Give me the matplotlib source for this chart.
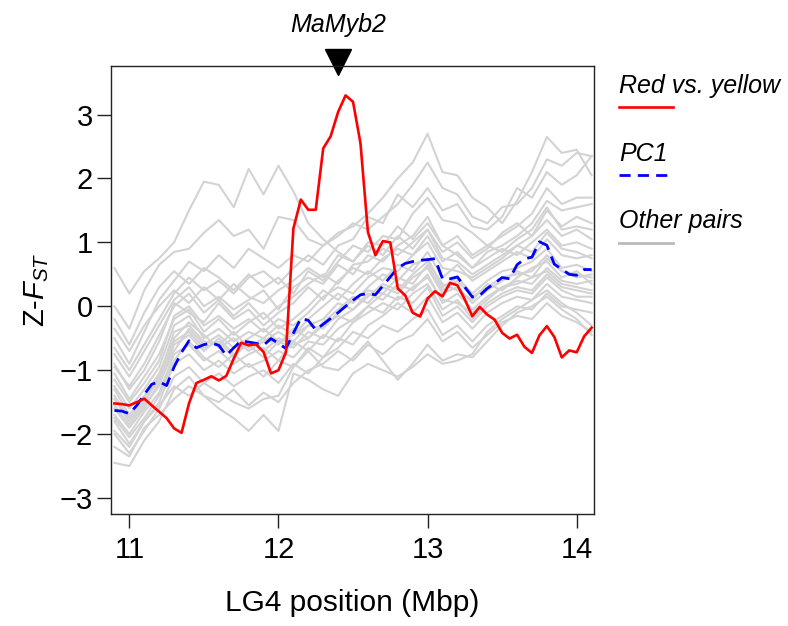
import numpy as np
import matplotlib
matplotlib.use("Agg")
import matplotlib.pyplot as plt
from matplotlib.lines import Line2D

plt.rcParams['font.family'] = ['Liberation Sans', 'DejaVu Sans']
plt.rcParams['mathtext.fontset'] = 'custom'
plt.rcParams['mathtext.rm'] = 'Liberation Sans'
plt.rcParams['mathtext.it'] = 'Liberation Sans:italic'

# positions (Mbp)
x_fine = np.round(np.arange(10.90, 14.1001, 0.05), 2)   # red / PC1
x_grey = np.round(np.arange(10.90, 14.1001, 0.10), 2)   # other pairs

red_vs_yellow = [-1.52, -1.53, -1.55, -1.50, -1.445, -1.55, -1.65, -1.75, -1.91, -1.98,
                 -1.52, -1.20, -1.15, -1.095, -1.16, -1.09, -0.82, -0.57, -0.61, -0.595,
                 -0.715, -1.05, -1.00, -0.72, 1.215, 1.67, 1.51, 1.51, 2.47, 2.66,
                 3.04, 3.30, 3.20, 2.55, 1.16, 0.80, 1.02, 1.00, 0.28, 0.17,
                 -0.10, -0.16, 0.12, 0.235, 0.155, 0.365, 0.33, 0.105, -0.155, -0.01,
                 -0.13, -0.21, -0.415, -0.505, -0.445, -0.635, -0.73, -0.455, -0.31, -0.48,
                 -0.80, -0.69, -0.72, -0.47, -0.335]

pc1 = [-1.63, -1.64, -1.68, -1.55, -1.38, -1.22, -1.18, -1.24, -0.95, -0.72,
       -0.54, -0.65, -0.60, -0.575, -0.61, -0.77, -0.65, -0.54, -0.56, -0.58,
       -0.61, -0.505, -0.58, -0.66, -0.42, -0.19, -0.22, -0.37, -0.28, -0.19,
       -0.10, 0.00, 0.095, 0.18, 0.20, 0.18, 0.32, 0.46, 0.60, 0.67,
       0.70, 0.72, 0.73, 0.745, 0.43, 0.43, 0.46, 0.30, 0.145, 0.17,
       0.28, 0.36, 0.45, 0.43, 0.65, 0.74, 0.77, 1.01, 0.955, 0.66,
       0.58, 0.50, 0.485, 0.575, 0.575]

other_pairs = [
    [0.60, 0.20, 0.55, 0.75, 1.00, 1.50, 1.95, 1.90, 1.55, 2.15, 1.75, 2.20, 1.80, 1.30, 1.05, 0.85, 0.70,
     0.95, 0.80, 1.10, 0.90, 1.20, 0.85, 1.00, 0.75, 0.90, 1.15, 1.30, 1.10, 1.50, 1.25, 1.40, 1.30],
    [0.00, -0.35, 0.25, 0.65, 0.85, 0.90, 1.15, 1.35, 1.10, 1.20, 0.90, 1.40, 1.35, 1.05, 0.95, 1.15, 1.25,
     1.45, 1.70, 2.00, 2.25, 2.70, 2.10, 2.05, 1.70, 1.55, 1.30, 1.65, 2.10, 2.65, 2.40, 2.45, 2.05],
    [-0.50, -0.90, -0.40, 0.10, 0.40, 0.70, 0.55, 0.80, 0.60, 0.90, 0.75, 0.60, 0.80, 0.70, 0.95, 1.10, 1.30,
     1.20, 1.40, 1.60, 1.90, 2.25, 1.85, 1.75, 1.40, 1.30, 1.55, 1.60, 1.85, 2.30, 2.20, 2.40, 2.35],
    [-0.20, -0.60, -0.10, 0.30, 0.55, 0.35, 0.60, 0.45, 0.25, 0.50, 0.30, 0.45, 0.20, 0.55, 0.40, 0.70, 0.95,
     0.85, 1.10, 1.05, 1.45, 1.70, 1.35, 1.30, 1.15, 0.95, 1.10, 1.25, 1.45, 1.85, 1.60, 1.70, 1.70],
    [-0.75, -1.10, -0.70, -0.30, 0.10, 0.30, 0.00, 0.15, -0.05, 0.10, 0.25, -0.05, 0.30, 0.45, 0.35, 0.65, 0.50,
     0.80, 0.70, 0.95, 1.10, 1.40, 0.95, 1.10, 0.80, 0.95, 0.85, 1.05, 1.20, 1.55, 1.20, 1.25, 1.20],
    [-0.90, -1.30, -1.00, -0.55, 0.05, -0.10, -0.25, 0.05, -0.20, -0.05, -0.30, -0.10, 0.05, 0.30, 0.10, 0.40, 0.60,
     0.50, 0.75, 0.90, 0.80, 1.10, 0.70, 0.85, 0.60, 0.75, 0.90, 0.80, 1.00, 1.20, 0.95, 1.00, 0.90],
    [-1.05, -1.45, -1.10, -0.75, -0.20, -0.05, -0.40, -0.20, -0.45, -0.25, -0.10, -0.35, -0.20, 0.00, 0.25, 0.10, 0.35,
     0.55, 0.40, 0.65, 0.55, 0.85, 0.45, 0.65, 0.40, 0.55, 0.70, 0.85, 0.75, 1.05, 0.80, 0.75, 0.80],
    [-1.25, -1.60, -1.30, -0.95, -0.30, -0.15, -0.50, -0.35, -0.55, -0.40, -0.50, -0.30, -0.45, -0.20, 0.00, 0.20, 0.05,
     0.30, 0.50, 0.40, 0.65, 0.75, 0.30, 0.45, 0.20, 0.40, 0.55, 0.60, 0.70, 0.90, 0.60, 0.65, 0.55],
    [-1.40, -1.75, -1.45, -1.10, -0.40, -0.30, -0.55, -0.60, -0.40, -0.65, -0.50, -0.60, -0.35, -0.50, -0.25, -0.05, 0.15,
     0.05, 0.30, 0.20, 0.45, 0.60, 0.20, 0.30, 0.05, 0.25, 0.40, 0.55, 0.45, 0.75, 0.55, 0.50, 0.45],
    [-1.55, -1.85, -1.55, -1.25, -0.60, -0.45, -0.70, -0.50, -0.75, -0.60, -0.80, -0.55, -0.65, -0.40, -0.50, -0.20, -0.05,
     0.20, 0.10, 0.35, 0.25, 0.50, 0.05, 0.20, -0.05, 0.15, 0.30, 0.40, 0.35, 0.60, 0.40, 0.35, 0.40],
    [-1.70, -2.00, -1.65, -1.35, -0.75, -0.60, -0.85, -0.70, -0.90, -0.75, -0.65, -0.85, -0.55, -0.70, -0.45, -0.55, -0.25,
     -0.10, 0.05, -0.05, 0.20, 0.35, -0.05, 0.10, -0.20, 0.05, 0.20, 0.30, 0.25, 0.50, 0.30, 0.25, 0.20],
    [-1.80, -2.15, -1.80, -1.50, -0.90, -0.75, -1.00, -0.85, -1.05, -0.90, -1.10, -0.85, -0.95, -0.65, -0.80, -0.50, -0.60,
     -0.30, -0.15, 0.05, -0.10, 0.15, -0.25, -0.10, -0.35, -0.10, 0.05, 0.15, 0.10, 0.35, 0.15, 0.10, 0.05],
    [-2.00, -2.30, -1.95, -1.60, -1.10, -0.95, -1.20, -1.05, -1.25, -1.10, -1.00, -1.20, -0.90, -1.05, -0.80, -0.65, -0.40,
     -0.50, -0.30, -0.40, -0.20, -0.05, -0.45, -0.30, -0.55, -0.30, -0.15, 0.00, -0.05, 0.20, 0.00, -0.05, -0.10],
    [-2.45, -2.50, -2.10, -1.80, -1.30, -1.10, -1.40, -1.50, -1.30, -1.55, -1.35, -1.50, -1.20, -1.00, -0.90, -0.70, -0.85,
     -0.60, -0.75, -0.55, -0.45, -0.20, -0.55, -0.40, -0.65, -0.45, -0.25, -0.15, -0.20, 0.05, -0.15, -0.25, -0.40],
    [-2.20, -2.35, -1.90, -1.70, -1.45, -1.25, -1.40, -1.60, -1.75, -1.95, -1.70, -1.95, -1.05, -1.15, -1.30, -1.40, -1.05,
     -0.90, -1.00, -1.10, -0.95, -0.75, -0.90, -0.85, -0.75, -0.40, -0.20, -0.05, 0.10, 0.25, 0.05, -0.10, -0.30],
    [-1.95, -2.20, -1.80, -1.55, -1.25, -1.40, -1.20, -1.35, -1.50, -1.60, -1.45, -1.40, -0.95, -0.70, -0.95, -1.00, -0.80,
     -0.55, -0.85, -1.15, -0.90, -0.60, -0.85, -0.75, -0.80, -0.55, -0.30, -0.10, 0.00, 0.15, -0.05, -0.20, -0.45],
    [-0.35, -0.70, -0.30, 0.00, 0.25, 0.05, 0.30, 0.10, 0.35, 0.15, 0.05, 0.25, 0.40, 0.60, 0.45, 0.80, 0.70,
     1.00, 0.95, 1.25, 1.05, 1.30, 0.95, 0.80, 0.60, 0.85, 0.95, 1.10, 1.30, 1.65, 1.50, 1.55, 1.60],
    [-1.15, -1.50, -1.20, -0.85, -0.15, 0.00, -0.30, -0.15, -0.35, -0.20, -0.40, -0.20, -0.30, -0.10, 0.15, 0.30, 0.20,
     0.45, 0.60, 0.55, 0.80, 1.00, 0.60, 0.55, 0.45, 0.60, 0.75, 0.95, 0.85, 1.15, 0.90, 0.85, 0.75],
    [-1.60, -1.90, -1.60, -1.20, -0.70, -0.35, -0.60, -0.45, -0.65, -0.50, -0.35, -0.55, -0.45, -0.30, -0.35, -0.10, 0.10,
     0.25, 0.20, 0.45, 0.35, 0.65, 0.25, 0.40, 0.15, 0.30, 0.45, 0.50, 0.55, 0.80, 0.55, 0.45, 0.50],
    [-1.30, -1.70, -1.40, -1.05, -0.50, -0.25, -0.45, -0.65, -0.50, -0.70, -0.55, -0.40, -0.55, -0.30, -0.20, 0.05, -0.05,
     0.15, 0.35, 0.25, 0.50, 0.70, 0.35, 0.25, 0.10, 0.35, 0.25, 0.45, 0.60, 0.70, 0.45, 0.55, 0.35],
    [-0.65, -1.00, -0.60, -0.20, 0.20, 0.45, 0.25, 0.40, 0.20, 0.45, 0.55, 0.35, 0.60, 0.80, 0.65, 0.95, 1.05,
     1.40, 1.30, 1.75, 1.55, 1.85, 1.50, 1.60, 1.25, 1.20, 1.40, 1.85, 1.70, 2.10, 1.90, 2.05, 2.35],
    [-0.95, -1.25, -0.90, -0.45, 0.00, 0.20, -0.10, 0.10, -0.15, 0.05, -0.20, 0.00, 0.15, 0.35, 0.50, 0.35, 0.65,
     0.70, 0.90, 0.80, 1.00, 1.20, 0.75, 0.70, 0.50, 0.65, 0.80, 0.95, 1.10, 1.35, 1.10, 1.20, 1.05],
    [-1.75, -2.05, -1.75, -1.40, -0.85, -0.55, -0.80, -0.95, -0.75, -0.95, -0.85, -0.70, -0.80, -0.55, -0.60, -0.35, -0.20,
     0.00, -0.10, 0.15, 0.05, 0.30, -0.15, 0.00, -0.25, 0.00, 0.15, 0.25, 0.20, 0.45, 0.25, 0.15, 0.15],
    [-1.45, -1.80, -1.50, -1.15, -0.55, -0.40, -0.65, -0.55, -0.80, -0.55, -0.70, -0.50, -0.60, -0.50, -0.30, -0.15, -0.25,
     0.00, 0.20, 0.10, 0.30, 0.45, 0.10, 0.05, -0.10, 0.10, 0.30, 0.35, 0.45, 0.55, 0.35, 0.30, 0.25],
]

gene_pos = 12.40
gene_name = "MaMyb2"
legend_labels = ["Red vs. yellow", "PC1", "Other pairs"]

W, H = 788, 626
fig = plt.figure(figsize=(W / 100, H / 100), dpi=100)
ax = fig.add_axes([111 / W, 1 - 514 / H, 483 / W, 448 / H])

grey = '#d3d3d3'
for ys in other_pairs:
    ax.plot(x_grey, ys, color=grey, lw=1.5)
ax.plot(x_fine, pc1, color='#0000ff', lw=2.0, dashes=(5.0, 2.6))
ax.plot(x_fine, red_vs_yellow, color='#ff0000', lw=1.9)

ax.set_xlim(10.877, 14.116)
ax.set_ylim(-3.25, 3.76)
ax.set_xticks([11, 12, 13, 14])
ax.set_yticks([-3, -2, -1, 0, 1, 2, 3])
ax.set_yticklabels(['\u22123', '\u22122', '\u22121', '0', '1', '2', '3'])
ax.tick_params(direction='out', length=10, width=1, labelsize=21, pad=3, color='#222222')
ax.tick_params(axis='x', pad=6)
for s in ax.spines.values():
    s.set_linewidth(1.0)
    s.set_color('#222222')

ax.set_xlabel('LG4 position (Mbp)', fontsize=21.5, labelpad=18)
ax.set_ylabel(r'Z-$\mathit{F_{ST}}$', fontsize=21, labelpad=6)

# gene marker above the panel
ax.plot([gene_pos], [3.83], marker='v', ms=19, color='black', clip_on=False)
ax.text(gene_pos, 4.40, gene_name, fontsize=18, style='italic', ha='center', va='center',
        clip_on=False)

# legend drawn at the right of the panel
def fx(px):
    return px / W

def fy(py):
    return 1 - py / H

styles = [dict(color='#ff0000', lw=1.9),
          dict(color='#0000ff', lw=2.0, dashes=(4.0, 2.6)),
          dict(color='#bbbbbb', lw=2.0)]
text_y = [93, 161, 228]
line_y = [107, 175, 243]
for lab, st, ty, ly in zip(legend_labels, styles, text_y, line_y):
    fig.text(fx(619), fy(ty), lab, fontsize=18, style='italic', ha='left', va='baseline')
    fig.add_artist(Line2D([fx(619), fx(673)], [fy(ly), fy(ly)], transform=fig.transFigure, **st))

fig.savefig('out.png', dpi=100)
